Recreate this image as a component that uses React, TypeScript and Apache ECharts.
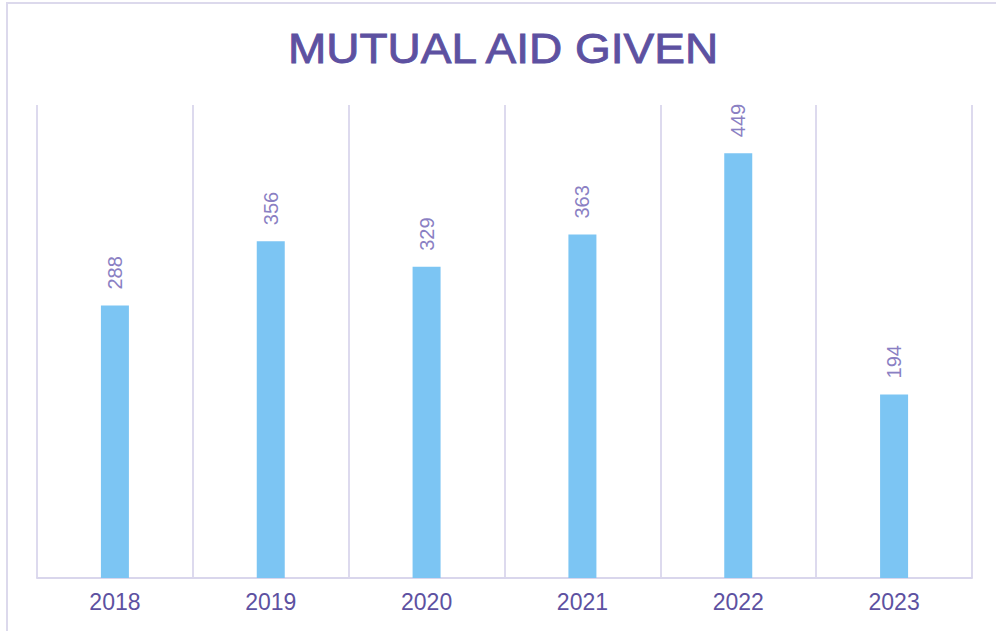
import React, { useEffect, useRef } from "react";
import * as echarts from "echarts";

const years = ["2018", "2019", "2020", "2021", "2022", "2023"];
const aidGiven = [288, 356, 329, 363, 449, 194];
const chartTitle = "MUTUAL AID GIVEN";

export default function App() {
  const ref = useRef<HTMLDivElement>(null);
  useEffect(() => {
    if (!ref.current) return;
    const chart = echarts.init(ref.current, null, { renderer: "svg" });
    chart.setOption({
      animation: false,
      backgroundColor: "#ffffff",
      graphic: [
        {
          type: "rect",
          z: -10,
          shape: { x: 7, y: 3, width: 1100, height: 800 },
          style: { fill: "none", stroke: "#dcd9ec", lineWidth: 2 },
          silent: true,
        },
        {
          type: "text",
          x: 503,
          y: 48,
          scaleX: 1.07,
          style: {
            text: chartTitle,
            fontSize: 43,
            fontFamily: "Liberation Sans",
            fill: "#5d51a1",
            stroke: "#5d51a1",
            lineWidth: 0.9,
            align: "center",
            verticalAlign: "middle",
          },
        },
      ],
      grid: { left: 37, right: 24, top: 105, bottom: 53 },
      xAxis: {
        type: "category",
        data: years,
        boundaryGap: true,
        axisLine: { show: true, lineStyle: { color: "#d9d6ec", width: 2 } },
        axisTick: { show: false },
        splitLine: { show: true, interval: 0, lineStyle: { color: "#dddaee", width: 2 } },
        axisLabel: {
          color: "#5d51a1",
          fontSize: 23,
          fontFamily: "Liberation Sans",
          margin: 12,
          interval: 0,
        },
      },
      yAxis: {
        type: "value",
        min: 0,
        max: 500,
        show: false,
        splitLine: { show: false },
      },
      series: [
        {
          type: "bar",
          data: aidGiven,
          barWidth: 28,
          itemStyle: { color: "#7cc5f3" },
          label: {
            show: true,
            position: "top",
            rotate: 90,
            align: "left",
            verticalAlign: "middle",
            distance: 16,
            color: "#8a80c3",
            fontSize: 20,
            fontFamily: "Liberation Sans",
          },
        },
      ],
    });
    return () => chart.dispose();
  }, []);
  return (
    <div
      ref={ref}
      style={{ position: "absolute", left: 0, top: 0, width: 996, height: 631 }}
    />
  );
}
